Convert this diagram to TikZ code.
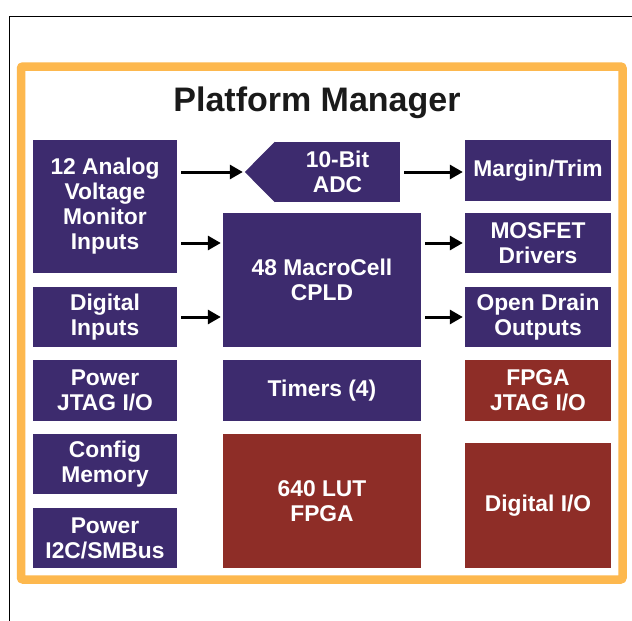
\documentclass[tikz,border=0pt]{standalone}
\usepackage{fontspec}
\setmainfont{Liberation Sans}
\usetikzlibrary{arrows.meta}
\definecolor{mgrpurple}{HTML}{3D2B6E}
\definecolor{mgrred}{HTML}{8E2D27}
\definecolor{mgrorange}{HTML}{FDB84E}
\definecolor{mgrtitle}{HTML}{1A1A1A}
\begin{document}
\begin{tikzpicture}[x=1pt, y=-1pt,
  block/.style={fill=mgrpurple, text=white, font=\bfseries\fontsize{22.8}{25}\selectfont, align=center, inner sep=0pt},
  fpgablock/.style={block, fill=mgrred},
  link/.style={line width=3pt, -{Triangle[length=13pt, width=14pt]}, shorten <=4pt, shorten >=2pt}]
\useasboundingbox (0,0) rectangle (632,621);
\fill[white] (0,0) rectangle (632,621);
\draw[line width=1pt] (9,621) -- (9,16) -- (632,16);
\draw[mgrorange, line width=8.5pt, rounded corners=2pt] (21,66.5) rectangle (622.5,579.5);
\node[font=\bfseries\fontsize{34}{38}\selectfont, text=mgrtitle] (title) at (317,102.5) {Platform Manager};

\node[block, minimum width=144pt, minimum height=133pt] (analog) at (105,206.5) {12 Analog\\Voltage\\Monitor\\Inputs};
\node[block, minimum width=144pt, minimum height=60pt] (digital) at (105,317) {Digital\\Inputs};
\node[block, minimum width=144pt, minimum height=61pt] (pwrjtag) at (105,390.5) {Power\\JTAG I/O};
\node[block, minimum width=144pt, minimum height=60pt] (config) at (105,464) {Config\\Memory};
\node[block, minimum width=144pt, minimum height=60pt] (pwri2c) at (105,538) {Power\\I2C/SMBus};

\node[block, minimum width=125pt, minimum height=60pt] (adc) at (337.5,172) {10-Bit\\ADC};
\fill[mgrpurple] (adc.north west) -- ([xshift=-30pt]adc.west) -- (adc.south west) -- cycle;
\coordinate (adctip) at ([xshift=-30pt]adc.west);
\node[block, minimum width=198pt, minimum height=134pt] (cpld) at (322,280) {48 MacroCell\\CPLD};
\node[block, minimum width=198pt, minimum height=61pt] (timers) at (322,390.5) {Timers (4)};
\node[fpgablock, minimum width=198pt, minimum height=134pt] (fpga) at (322,501) {640 LUT\\FPGA};

\node[block, minimum width=146pt, minimum height=61pt] (margin) at (538,170.5) {Margin/Trim};
\node[block, minimum width=146pt, minimum height=60pt] (mosfet) at (538,243) {MOSFET\\Drivers};
\node[block, minimum width=146pt, minimum height=60pt] (opendrain) at (538,317) {Open Drain\\Outputs};
\node[fpgablock, minimum width=146pt, minimum height=61pt] (fpgajtag) at (538,390.5) {FPGA\\JTAG I/O};
\node[fpgablock, minimum width=146pt, minimum height=125pt] (digitalio) at (538,505.5) {Digital I/O};

\draw[link] (analog.east |- adctip) -- (adctip);
\draw[link] (adc.east) -- (margin.west |- adc.east);
\draw[link] (analog.east |- mosfet) -- (cpld.west |- mosfet);
\draw[link] (digital.east) -- (cpld.west |- digital);
\draw[link] (cpld.east |- mosfet) -- (mosfet.west);
\draw[link] (cpld.east |- opendrain) -- (opendrain.west);
\end{tikzpicture}
\end{document}
